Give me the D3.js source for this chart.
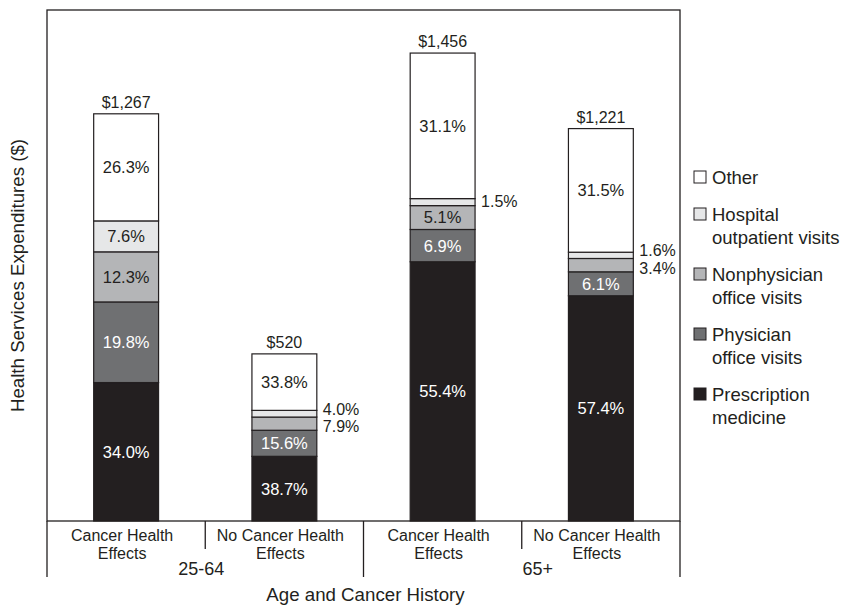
<!DOCTYPE html>
<html>
<head>
<meta charset="utf-8">
<script src="https://cdn.jsdelivr.net/npm/d3@7"></script>
<style>
  body { margin: 0; background: #fff; }
  text { font-family: Helvetica, Arial, "Liberation Sans", sans-serif; fill: #231f20; }
</style>
</head>
<body>
<div id="chart"></div>
<script>
// chart values
var catLine1 = ["Cancer Health", "No Cancer Health", "Cancer Health", "No Cancer Health"];
var catLine2 = ["Effects", "Effects", "Effects", "Effects"];
var ageGroups = ["25-64", "65+"];
var totals = [1267, 520, 1456, 1221];
var totalLabels = ["$1,267", "$520", "$1,456", "$1,221"];

// percent shares, bottom to top
var services = ["prescription", "physician", "nonphysician", "hospital", "other"];
var prescription = [34.0, 38.7, 55.4, 57.4];
var physician = [19.8, 15.6, 6.9, 6.1];
var nonphysician = [12.3, 7.9, 5.1, 3.4];
var hospital = [7.6, 4.0, 1.5, 1.6];
var other = [26.3, 33.8, 31.1, 31.5];

var legendLabels = {
  other: ["Other"],
  hospital: ["Hospital", "outpatient visits"],
  nonphysician: ["Nonphysician", "office visits"],
  physician: ["Physician", "office visits"],
  prescription: ["Prescription", "medicine"]
};

var shares = {prescription: prescription, physician: physician, nonphysician: nonphysician, hospital: hospital, other: other};

var W = 842, H = 607;
var plot = {left: 47, right: 680, top: 10, bottom: 521};
var yMax = 1590;

var svg = d3.select("#chart").append("svg")
    .attr("width", W)
    .attr("height", H);

var x = d3.scaleBand()
    .domain(d3.range(totals.length))
    .range([plot.left, plot.right])
    .padding(0);

var y = d3.scaleLinear()
    .domain([0, yMax])
    .range([plot.bottom, plot.top]);

var color = d3.scaleOrdinal()
    .domain(services)
    .range(["#231f20", "#6f7072", "#b4b5b7", "#e6e7e8", "#ffffff"]);

var textColor = {prescription: "#ffffff", physician: "#ffffff", nonphysician: "#231f20", hospital: "#231f20", other: "#231f20"};

// rows in dollars so the stack lines up with totals
var rows = totals.map(function(t, i) {
  var r = {i: i};
  services.forEach(function(s) { r[s] = t * shares[s][i] / 100; });
  return r;
});

var series = d3.stack().keys(services)(rows);

var barW = x.bandwidth() * 0.41;
function barX(i) { return x(i) + (x.bandwidth() - barW) / 2; }

// bars
var layers = svg.append("g")
  .selectAll("g")
  .data(series)
  .enter().append("g")
    .attr("fill", function(d) { return color(d.key); });

layers.selectAll("rect")
  .data(function(d) { return d; })
  .enter().append("rect")
    .attr("x", function(d) { return barX(d.data.i); })
    .attr("y", function(d) { return y(d[1]); })
    .attr("width", barW)
    .attr("height", function(d) { return y(d[0]) - y(d[1]); })
    .attr("stroke", "#231f20")
    .attr("stroke-width", 1.2);

// segment labels, inside when there is room, else to the right of the bar
var outside = [];
series.forEach(function(s) {
  s.forEach(function(d) {
    var i = d.data.i;
    var h = y(d[0]) - y(d[1]);
    var lab = {i: i, key: s.key, text: shares[s.key][i].toFixed(1) + "%", cy: (y(d[0]) + y(d[1])) / 2};
    if (h >= 18) {
      svg.append("text")
        .attr("x", barX(i) + barW / 2)
        .attr("y", lab.cy)
        .attr("dy", "0.36em")
        .attr("text-anchor", "middle")
        .style("font-size", "16.5px")
        .style("fill", textColor[s.key])
        .text(lab.text);
    } else {
      outside.push(lab);
    }
  });
});

d3.range(totals.length).forEach(function(i) {
  var labs = outside.filter(function(l) { return l.i === i; });
  labs.sort(function(a, b) { return a.cy - b.cy; });
  var mid = d3.mean(labs, function(l) { return l.cy; });
  labs.forEach(function(l, k) {
    svg.append("text")
      .attr("x", barX(i) + barW + 6)
      .attr("y", mid + (k - (labs.length - 1) / 2) * 17.5 - 1)
      .attr("dy", "0.36em")
      .style("font-size", "16px")
      .text(l.text);
  });
});

// totals above bars
svg.append("g")
  .selectAll("text")
  .data(totals)
  .enter().append("text")
    .attr("x", function(d, i) { return barX(i) + barW / 2; })
    .attr("y", function(d) { return y(d) - 6; })
    .attr("text-anchor", "middle")
    .style("font-size", "16px")
    .text(function(d, i) { return totalLabels[i]; });

// frame and category dividers
var frame = svg.append("g")
    .attr("stroke", "#231f20")
    .attr("stroke-width", 1.3)
    .attr("fill", "none");

frame.append("rect")
    .attr("x", plot.left)
    .attr("y", plot.top)
    .attr("width", plot.right - plot.left)
    .attr("height", plot.bottom - plot.top);

// group dividers (long) and category dividers (short)
d3.range(totals.length + 1).forEach(function(k) {
  var xx = k < totals.length ? x(k) : plot.right;
  var long = k % 2 === 0;
  frame.append("line")
    .attr("x1", xx).attr("x2", xx)
    .attr("y1", plot.bottom)
    .attr("y2", long ? 577 : 549);
});

// category labels
var cats = svg.append("g")
  .selectAll("text")
  .data(catLine1)
  .enter().append("text")
    .attr("text-anchor", "middle")
    .style("font-size", "16px");

function catX(i) { return x(i) + x.bandwidth() / 2 - 4; }

cats.append("tspan")
    .attr("x", function(d, i) { return catX(i); })
    .attr("y", 541)
    .text(function(d) { return d; });
cats.append("tspan")
    .attr("x", function(d, i) { return catX(i); })
    .attr("y", 559)
    .text(function(d, i) { return catLine2[i]; });

// age group labels
svg.append("g")
  .selectAll("text")
  .data(ageGroups)
  .enter().append("text")
    .attr("x", function(d, g) { return x(g * 2) + x.bandwidth() + (g === 1 ? 16 : -4); })
    .attr("y", 575)
    .attr("text-anchor", "middle")
    .style("font-size", "18px")
    .text(function(d) { return d; });

// axis titles
svg.append("text")
    .attr("x", (plot.left + plot.right) / 2 + 2)
    .attr("y", 601)
    .attr("text-anchor", "middle")
    .style("font-size", "18.7px")
    .text("Age and Cancer History");

svg.append("text")
    .attr("transform", "translate(24," + ((plot.top + plot.bottom) / 2 + 10) + ") rotate(-90)")
    .attr("text-anchor", "middle")
    .style("font-size", "18.7px")
    .text("Health Services Expenditures ($)");

// legend
var legendKeys = services.slice().reverse();
var lineH = 23, gap = 14;
var ly = 177;
var legend = svg.append("g");
legendKeys.forEach(function(k) {
  var lines = legendLabels[k];
  legend.append("rect")
    .attr("x", 694)
    .attr("y", ly - 6)
    .attr("width", 12)
    .attr("height", 12)
    .attr("fill", color(k))
    .attr("stroke", "#231f20")
    .attr("stroke-width", 1);
  lines.forEach(function(t, j) {
    legend.append("text")
      .attr("x", 712)
      .attr("y", ly + j * lineH)
      .attr("dy", "0.36em")
      .style("font-size", "18.5px")
      .text(t);
  });
  ly += lines.length * lineH + gap;
});
</script>
</body>
</html>
